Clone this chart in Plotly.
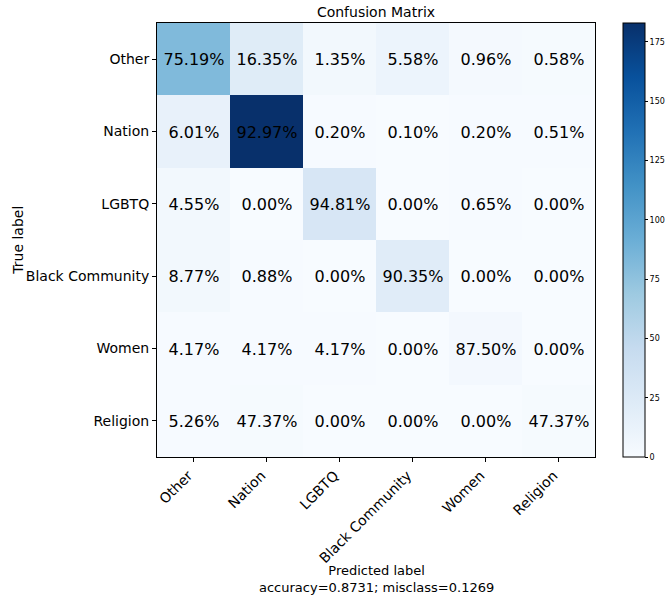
import plotly.graph_objects as go

labels = ["Other", "Nation", "LGBTQ", "Black Community", "Women", "Religion"]

# percentages shown in cells (row = true label, col = predicted label)
pct = [
    [75.19, 16.35, 1.35, 5.58, 0.96, 0.58],
    [6.01, 92.97, 0.20, 0.10, 0.20, 0.51],
    [4.55, 0.00, 94.81, 0.00, 0.65, 0.00],
    [8.77, 0.88, 0.00, 90.35, 0.00, 0.00],
    [4.17, 4.17, 4.17, 0.00, 87.50, 0.00],
    [5.26, 47.37, 0.00, 0.00, 0.00, 47.37],
]

# colour values (counts)
counts = [
    [82, 22, 5, 10, 3, 2],
    [14, 183, 1, 0, 1, 1],
    [5, 0, 30, 0, 1, 0],
    [5, 1, 0, 21, 0, 0],
    [1, 1, 1, 0, 4, 0],
    [1, 2, 0, 0, 0, 2],
]

cbar_ticks = [0, 25, 50, 75, 100, 125, 150, 175]

text = [[f"{v:.2f}%" for v in row] for row in pct]

FONT = "DejaVu Sans"

fig = go.Figure(
    go.Heatmap(
        z=counts,
        x=labels,
        y=labels,
        text=text,
        texttemplate="%{text}",
        textfont=dict(family=FONT, size=16, color="black"),
        colorscale="Blues",
        zmin=0,
        zmax=183,
        colorbar=dict(
            x=1.064,
            xanchor="left",
            xpad=0,
            y=0.5,
            yanchor="middle",
            ypad=0,
            len=1.0,
            lenmode="fraction",
            thickness=22,
            outlinewidth=1,
            outlinecolor="black",
            tickvals=cbar_ticks,
            ticks="outside",
            ticklen=3,
            tickcolor="black",
            tickfont=dict(family=FONT, size=8, color="black"),
        ),
    )
)

fig.update_layout(
    width=668,
    height=601,
    margin=dict(l=157, r=73, t=23, b=144, autoexpand=False),
    paper_bgcolor="white",
    plot_bgcolor="white",
    font=dict(family=FONT, color="black"),
    title=dict(
        text="Confusion Matrix",
        xref="paper",
        x=0.5,
        xanchor="center",
        yref="container",
        y=0.98,
        yanchor="middle",
        font=dict(family=FONT, size=14, color="black"),
        pad=dict(t=0, b=0),
    ),
    xaxis=dict(
        tickangle=-45,
        ticks="outside",
        ticklen=4,
        tickcolor="black",
        tickfont=dict(family=FONT, size=14, color="black"),
        ticklabelshift=-5,
        showline=True,
        linecolor="black",
        linewidth=1,
        mirror=True,
        showgrid=False,
        zeroline=False,
        automargin=False,
    ),
    yaxis=dict(
        autorange="reversed",
        ticks="outside",
        ticklen=4,
        tickcolor="black",
        tickfont=dict(family=FONT, size=14, color="black"),
        showline=True,
        linecolor="black",
        linewidth=1,
        mirror=True,
        showgrid=False,
        zeroline=False,
        automargin=False,
    ),
    annotations=[
        dict(
            text="True label",
            xref="paper",
            yref="paper",
            x=-0.318,
            y=0.5,
            xanchor="center",
            yanchor="middle",
            textangle=-90,
            showarrow=False,
            font=dict(family=FONT, size=14, color="black"),
        ),
        dict(
            text="Predicted label<br>accuracy=0.8731; misclass=0.1269",
            xref="paper",
            yref="paper",
            x=0.5,
            y=-0.24,
            xanchor="center",
            yanchor="top",
            showarrow=False,
            font=dict(family=FONT, size=13, color="black"),
        ),
    ],
)

fig.write_html(
    "out.html",
    config={"displayModeBar": False},
    post_script="document.body.style.margin='0';document.body.style.overflow='hidden';",
)
